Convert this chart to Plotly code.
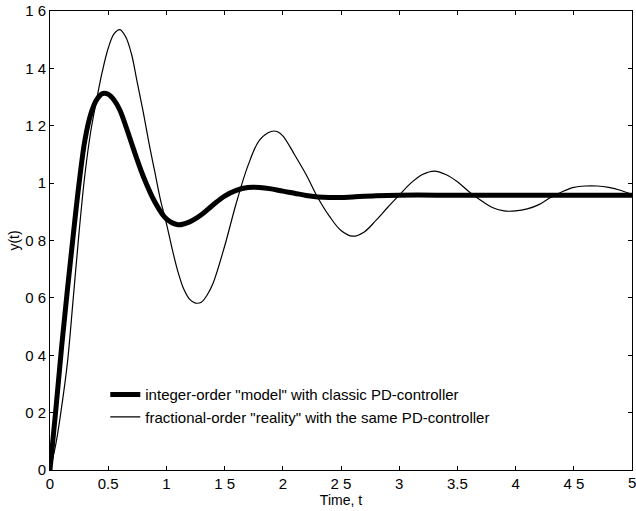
import plotly.graph_objects as go

# integer-order "model" with classic PD-controller (thick)
t_model = [0, 0.05, 0.1, 0.15, 0.2, 0.25, 0.3, 0.35, 0.4, 0.45, 0.5, 0.55, 0.6, 0.65, 0.7,
           0.75, 0.8, 0.9, 1.0, 1.1, 1.2, 1.3, 1.4, 1.5, 1.6, 1.7, 1.8, 1.9, 2.0, 2.1, 2.2,
           2.3, 2.4, 2.5, 2.6, 2.8, 3.0, 3.5, 4.0, 4.5, 5.0]
y_model = [0, 0.21, 0.43, 0.63, 0.82, 1.0, 1.15, 1.24, 1.29, 1.312, 1.31, 1.29, 1.255, 1.20, 1.14,
           1.08, 1.025, 0.935, 0.875, 0.855, 0.865, 0.89, 0.924, 0.955, 0.975, 0.985, 0.985, 0.98,
           0.972, 0.965, 0.957, 0.952, 0.95, 0.95, 0.952, 0.956, 0.958, 0.958, 0.958, 0.958, 0.958]

# fractional-order "reality" with the same PD-controller (thin)
t_real = [0, 0.05, 0.1, 0.15, 0.2, 0.25, 0.3, 0.35, 0.4, 0.45, 0.5, 0.55, 0.6, 0.65, 0.7, 0.75,
          0.8, 0.85, 0.9, 0.95, 1.0, 1.05, 1.1, 1.15, 1.2, 1.25, 1.3, 1.35, 1.4, 1.5, 1.6, 1.7,
          1.8, 1.9, 1.95, 2.0, 2.1, 2.2, 2.3, 2.4, 2.5, 2.6, 2.7, 2.8, 2.9, 3.0, 3.1, 3.2, 3.3,
          3.4, 3.5, 3.6, 3.7, 3.8, 3.9, 4.0, 4.1, 4.2, 4.3, 4.4, 4.5, 4.6, 4.7, 4.8, 4.9, 5.0]
y_real = [0, 0.09, 0.22, 0.375, 0.60, 0.83, 1.03, 1.18, 1.29, 1.39, 1.47, 1.52, 1.535, 1.51, 1.45,
          1.35, 1.25, 1.14, 1.04, 0.94, 0.86, 0.77, 0.69, 0.63, 0.595, 0.582, 0.585, 0.61, 0.65,
          0.78, 0.93, 1.06, 1.15, 1.18, 1.18, 1.165, 1.10, 1.03, 0.95, 0.885, 0.835, 0.815, 0.83,
          0.87, 0.915, 0.958, 1.0, 1.03, 1.042, 1.03, 1.005, 0.97, 0.94, 0.915, 0.903, 0.903,
          0.91, 0.925, 0.95, 0.97, 0.985, 0.99, 0.99, 0.985, 0.975, 0.96]

x_tick_vals = [0, 0.5, 1, 1.5, 2, 2.5, 3, 3.5, 4, 4.5, 5]
x_tick_text = ["0", "0.5", "1", "1 5", "2", "2 5", "3", "3.5", "4", "4 5", "5"]
y_tick_vals = [0, 0.2, 0.4, 0.6, 0.8, 1.0, 1.2, 1.4, 1.6]
y_tick_text = ["0", "0 2", "0 4", "0 6", "0 8", "1", "1 2", "1 4", "1 6"]

font_family = "Liberation Sans, Arial, sans-serif"
tick_font = dict(family=font_family, size=15, color="black")

fig = go.Figure()
fig.add_trace(go.Scatter(
    x=t_model, y=y_model, mode="lines", line_shape="spline",
    line=dict(color="black", width=5),
    name='integer-order "model" with classic PD-controller'))
fig.add_trace(go.Scatter(
    x=t_real, y=y_real, mode="lines", line_shape="spline",
    line=dict(color="black", width=1.2),
    name='fractional-order "reality" with the same PD-controller'))

axis_common = dict(showline=True, linecolor="black", linewidth=1, mirror="ticks",
                   ticks="inside", ticklen=4, tickcolor="black", showgrid=False,
                   zeroline=False, automargin=False, tickfont=tick_font)

# last x tick label sits on the right edge; plotly drops it, so draw it explicitly
fig.add_annotation(x=x_tick_vals[-1], y=0, xref="x", yref="paper", yanchor="top",
                   yshift=-2, text=x_tick_text[-1], showarrow=False, font=tick_font)

fig.update_layout(
    width=636, height=511,
    margin=dict(l=50, r=4, t=11, b=41),
    paper_bgcolor="white", plot_bgcolor="white",
    font=dict(family=font_family, color="black"),
    showlegend=True,
    legend=dict(x=0.095, y=0.2, xanchor="left", yanchor="top",
                bgcolor="rgba(0,0,0,0)", borderwidth=0,
                font=dict(family=font_family, size=15, color="black"),
                tracegroupgap=0, itemwidth=30),
    xaxis=dict(range=[0, 5], tickvals=x_tick_vals[:-1], ticktext=x_tick_text[:-1],
               title=dict(text="Time, t", font=dict(family=font_family, size=14), standoff=0),
               **axis_common),
    yaxis=dict(range=[0, 1.6], tickvals=y_tick_vals, ticktext=y_tick_text,
               title=dict(text="y(t)", font=dict(family=font_family, size=14), standoff=2),
               **axis_common),
)

fig.write_html("out.html", config={"displayModeBar": False},
               post_script="document.body.style.margin='0';document.body.style.overflow='hidden';")
